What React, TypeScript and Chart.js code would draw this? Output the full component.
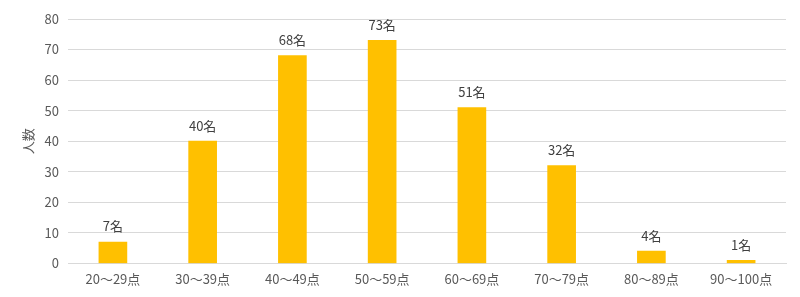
import React, { useEffect, useRef } from "react";
import { Chart, registerables } from "chart.js";

Chart.register(...registerables);

const categories = ["20～29点", "30～39点", "40～49点", "50～59点", "60～69点", "70～79点", "80～89点", "90～100点"];
const counts = [7, 40, 68, 73, 51, 32, 4, 1];
const unit = "名";
const yTitle = "人数";

const FONT = "'Noto Sans CJK JP', 'Noto Sans', sans-serif";

const labelPlugin = {
  id: "barLabels",
  afterDatasetsDraw(chart: any) {
    const ctx = chart.ctx;
    const meta = chart.getDatasetMeta(0);
    ctx.save();
    ctx.font = `13px ${FONT}`;
    ctx.fillStyle = "#404040";
    ctx.textAlign = "center";
    ctx.textBaseline = "bottom";
    meta.data.forEach((el: any, i: number) => {
      ctx.fillText(`${counts[i]}${unit}`, el.x, el.y - 9);
    });
    ctx.restore();
  },
};

export default function App() {
  const ref = useRef<HTMLCanvasElement>(null);
  useEffect(() => {
    document.body.style.margin = "0";
    const chart = new Chart(ref.current!, {
      type: "bar",
      data: {
        labels: categories,
        datasets: [
          {
            data: counts,
            backgroundColor: "#FFC000",
            barThickness: 28,
          },
        ],
      },
      options: {
        animation: false,
        responsive: false,
        maintainAspectRatio: false,
        layout: { padding: { top: 19, right: 14, bottom: 2, left: 20 } },
        plugins: { legend: { display: false }, tooltip: { enabled: false } },
        scales: {
          x: {
            grid: { display: false, drawTicks: false },
            border: { color: "#d9d9d9" },
            ticks: { color: "#595959", font: { size: 13, family: FONT }, padding: 8 },
          },
          y: {
            min: 0,
            max: 80,
            ticks: { stepSize: 10, color: "#595959", font: { size: 13, family: FONT }, padding: 9 },
            grid: { color: "#d9d9d9", drawTicks: false },
            border: { display: false },
            title: { display: true, text: yTitle, color: "#595959", font: { size: 13, family: FONT }, padding: { top: 0, bottom: 0 } },
          },
        },
      },
      plugins: [labelPlugin],
    });
    return () => chart.destroy();
  }, []);
  return <canvas ref={ref} width={800} height={297} style={{ display: "block" }} />;
}
